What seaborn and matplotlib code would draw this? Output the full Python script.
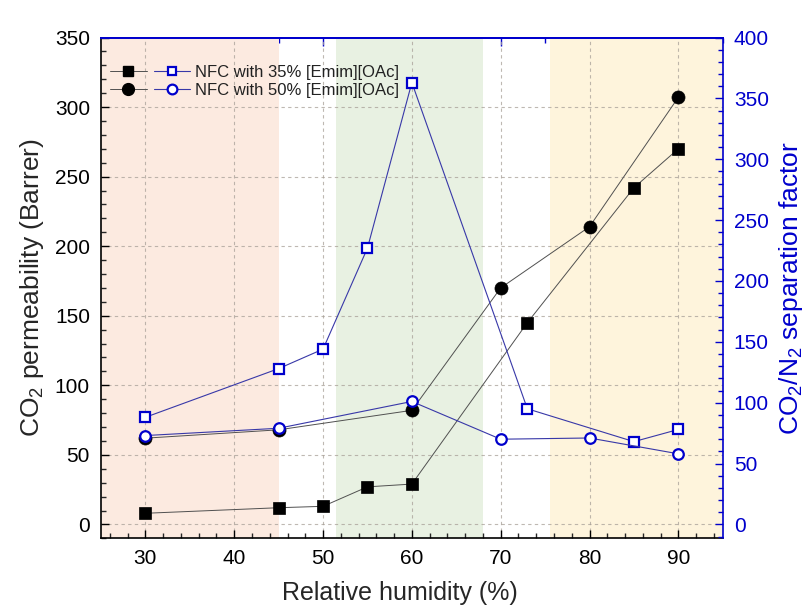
import matplotlib
matplotlib.use("Agg")
import matplotlib.pyplot as plt
import seaborn as sns
import numpy as np
from matplotlib.lines import Line2D
from matplotlib.legend_handler import HandlerTuple
from matplotlib.ticker import MultipleLocator

# ---- data ----
rh_35 = [30, 45, 50, 55, 60, 73, 85, 90]
perm_35 = [8, 12, 13, 27, 29, 145, 242, 270]
sep_35 = [88, 128, 144, 227, 363, 95, 68, 78]

rh_50 = [30, 45, 60, 70, 80, 90]
perm_50 = [62, 68, 82, 170, 214, 307]
sep_50 = [73, 79, 101, 70, 71, 58]

labels = ["NFC with 35% [Emim][OAc]", "NFC with 50% [Emim][OAc]"]
regions = [(25, 45, "#FCEAE0"), (51.5, 68, "#E8F1E2"), (75.5, 95, "#FEF4DC")]

sns.set_theme(style="white")
plt.rcParams['font.family'] = ['Liberation Sans', 'DejaVu Sans']
plt.rcParams['mathtext.fontset'] = 'custom'
plt.rcParams['mathtext.rm'] = 'Liberation Sans'
plt.rcParams['mathtext.it'] = 'Liberation Sans:italic'

fig = plt.figure(figsize=(8.06, 6.10), dpi=100)
ax = fig.add_axes([0.1253, 0.1175, 0.7714, 0.8210])
ax.set_facecolor("white")
ax2 = ax.twinx()

BLUE = "#0000CC"
LBLUE = "#3838A8"
LINE_K = "#505050"

for (x0, x1, c) in regions:
    ax.axvspan(x0, x1, color=c, zorder=0.2, lw=0)

# grid
for v in range(30, 95, 10):
    ax.axvline(v, color="#A8A098", lw=0.8, ls=(0, (3, 3)), zorder=0.5, alpha=0.75)
for v in range(0, 350, 50):
    ax.axhline(v, color="#A8A098", lw=0.8, ls=(0, (3, 3)), zorder=0.5, alpha=0.75)

sns.lineplot(x=rh_35, y=perm_35, ax=ax, color=LINE_K, lw=0.7, marker='s',
             markersize=8.4, markerfacecolor='black', markeredgecolor='black',
             markeredgewidth=0.5, sort=False, zorder=3, estimator=None)
sns.lineplot(x=rh_50, y=perm_50, ax=ax, color=LINE_K, lw=0.7, marker='o',
             markersize=9.4, markerfacecolor='black', markeredgecolor='black',
             markeredgewidth=0.5, sort=False, zorder=3, estimator=None)
sns.lineplot(x=rh_35, y=sep_35, ax=ax2, color=LBLUE, lw=0.8, marker='s',
             markersize=6.9, markerfacecolor='white', markeredgecolor=BLUE,
             markeredgewidth=1.6, sort=False, zorder=3, estimator=None)
sns.lineplot(x=rh_50, y=sep_50, ax=ax2, color=LBLUE, lw=0.8, marker='o',
             markersize=7.6, markerfacecolor='white', markeredgecolor=BLUE,
             markeredgewidth=1.6, sort=False, zorder=3, estimator=None)

ax.set_xlim(25, 95)
ax.set_ylim(-10, 350)
ax2.set_ylim(-10 * 400 / 350, 400)

ax.xaxis.set_major_locator(MultipleLocator(10))
ax.xaxis.set_minor_locator(MultipleLocator(2))
ax.yaxis.set_major_locator(MultipleLocator(50))
ax.yaxis.set_minor_locator(MultipleLocator(10))
ax2.yaxis.set_major_locator(MultipleLocator(50))
ax2.yaxis.set_minor_locator(MultipleLocator(10))

ax.tick_params(axis='both', which='major', direction='in', length=6, width=1,
               labelsize=15, pad=8, colors='black', top=False, right=False,
               bottom=True, left=True)
ax.tick_params(axis='both', which='minor', direction='in', length=3.5, width=1,
               top=False, right=False, bottom=True, left=True)
ax2.tick_params(axis='y', which='major', direction='in', length=6, width=1,
                labelsize=15, pad=8, colors=BLUE)
ax2.tick_params(axis='y', which='minor', direction='in', length=3.5, width=1,
                colors=BLUE)

# top axis (blue ticks)
secx = ax.secondary_xaxis('top')
secx.xaxis.set_major_locator(MultipleLocator(10))
secx.xaxis.set_minor_locator(MultipleLocator(5))
secx.tick_params(which='major', direction='in', length=6, width=1, colors=BLUE,
                 labeltop=False)
secx.tick_params(which='minor', direction='in', length=3.5, width=1, colors=BLUE)
secx.spines['top'].set_color(BLUE)

for s in ['left', 'bottom']:
    ax.spines[s].set_color('black')
    ax.spines[s].set_linewidth(1.2)
ax.spines['top'].set_color(BLUE)
ax.spines['right'].set_visible(False)
ax2.spines['right'].set_color(BLUE)
ax2.spines['right'].set_linewidth(1.2)
ax2.spines['top'].set_color(BLUE)
for s in ['left', 'bottom']:
    ax2.spines[s].set_visible(False)

ax.set_xlabel("Relative humidity (%)", fontsize=18, labelpad=9)
ax.xaxis.label.set_x(0.481)
ax.set_ylabel("CO$_2$ permeability (Barrer)", fontsize=19, labelpad=6)
ax2.set_ylabel("CO$_2$/N$_2$ separation factor", fontsize=19, color=BLUE, labelpad=6)

# legend
h35 = (Line2D([], [], color=LINE_K, lw=0.7, marker='s', markersize=7.5,
              markerfacecolor='black', markeredgecolor='black'),
       Line2D([], [], color=LBLUE, lw=0.8, marker='s', markersize=6.2,
              markerfacecolor='white', markeredgecolor=BLUE, markeredgewidth=1.6))
h50 = (Line2D([], [], color=LINE_K, lw=0.7, marker='o', markersize=8.5,
              markerfacecolor='black', markeredgecolor='black'),
       Line2D([], [], color=LBLUE, lw=0.8, marker='o', markersize=7,
              markerfacecolor='white', markeredgecolor=BLUE, markeredgewidth=1.6))
leg = ax2.legend([h35, h50], labels, handler_map={tuple: HandlerTuple(ndivide=None, pad=0.42)},
                 loc='upper left', bbox_to_anchor=(0.0145, 0.946), frameon=False,
                 fontsize=12, handlelength=4.8, handletextpad=0.3, labelspacing=0.22,
                 borderaxespad=0, borderpad=0)
for t in leg.get_texts():
    t.set_color("#222222")

fig.savefig("out.png", dpi=100)
